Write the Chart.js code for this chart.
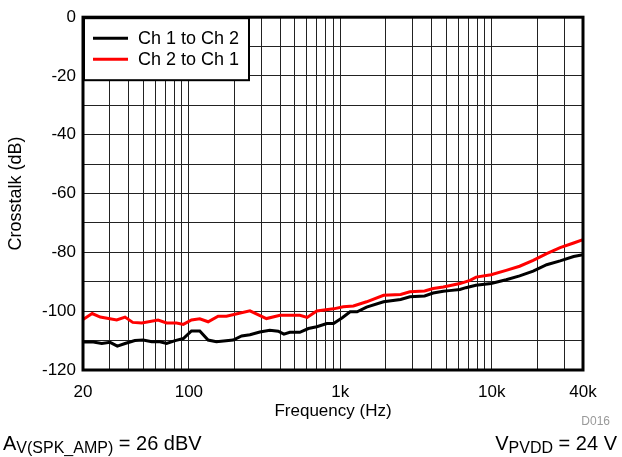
<!DOCTYPE html>
<html>
<head>
<meta charset="utf-8">
<script src="https://cdn.jsdelivr.net/npm/chart.js@4.4.0/dist/chart.umd.min.js"></script>
<style>
  html, body { margin: 0; padding: 0; background: #fff; }
  #wrap { width: 622px; height: 457px; position: relative; }
</style>
</head>
<body>
<div id="wrap"><canvas id="crosstalkChart"></canvas></div>
<script>
// Giá trị (tần số Hz, crosstalk dB)
const ch1Freq = [20, 23.4, 26.6, 30.2, 33.7, 37.9, 44, 49.9, 56.9, 64.5, 71.3, 81.2, 91.9, 104, 118, 134, 152, 196, 223, 253, 294, 342, 389, 424, 464, 540, 615, 699, 815, 902, 1030, 1160, 1290, 1490, 1930, 2500, 2880, 3600, 4100, 4780, 5240, 6160, 6740, 7850, 9880, 12440, 15260, 18750, 23030, 28250, 34690, 40000];
const ch1Db   = [-110.5, -110.5, -111, -110.6, -111.9, -111, -110, -109.8, -110.4, -110.4, -111, -110, -109.3, -106.7, -106.7, -109.8, -110.4, -109.8, -108.4, -108.0, -107.1, -106.5, -106.8, -107.8, -107.2, -107.2, -105.9, -105.3, -104.2, -104.2, -102.2, -100.2, -100.2, -98.6, -96.8, -96.0, -95.1, -94.8, -93.8, -93.2, -93.0, -92.6, -92.0, -91.2, -90.6, -89.3, -88.0, -86.4, -84.2, -82.9, -81.4, -80.8];

const ch2Freq = [20, 23.0, 26.0, 33.4, 37.9, 42.6, 48.9, 62.6, 71.3, 83, 91.9, 104, 118, 134, 156, 177, 253, 325, 400, 540, 604, 699, 902, 1046, 1220, 1490, 1930, 2500, 2880, 3600, 4100, 4780, 6160, 7180, 7880, 9880, 12440, 15260, 18750, 23030, 28250, 34690, 40000];
const ch2Db   = [-102.8, -100.8, -102, -103, -102, -103.8, -104, -103, -104, -104, -104.5, -103, -102.6, -103.6, -101.7, -101.7, -99.9, -102.5, -101.4, -101.4, -102.1, -99.9, -99.2, -98.5, -98.2, -96.8, -94.6, -94.3, -93.4, -93.1, -92.3, -91.8, -90.6, -89.5, -88.4, -87.6, -86.1, -84.7, -82.7, -80.4, -78.4, -76.8, -75.7];

const seriesNames = ['Ch 1 to Ch 2', 'Ch 2 to Ch 1'];
const xGridFreqs = [20, 30, 40, 50, 60, 70, 80, 90, 100, 200, 300, 400, 500, 600, 700, 800, 900, 1000,
  2000, 3000, 4000, 5000, 6000, 7000, 8000, 9000, 10000, 20000, 30000, 40000];
const xLabels = { 20: '20', 100: '100', 1000: '1k', 10000: '10k', 40000: '40k' };

const FONT = 'Arial, "Liberation Sans", sans-serif';

function toPoints(xs, ys) {
  return xs.map((x, i) => ({ x: x, y: ys[i] }));
}

// Khung đen dày quanh vùng vẽ + chú thích
const framePlugin = {
  id: 'frame',
  afterDraw(chart) {
    const { ctx, chartArea: a } = chart;
    ctx.save();
    // legend box
    const bx = a.left, by = a.top, bw = 166, bh = 63;
    ctx.fillStyle = '#fff';
    ctx.fillRect(bx, by, bw, bh);
    ctx.strokeStyle = '#000';
    ctx.lineWidth = 2;
    ctx.strokeRect(bx + 1, by + 1, bw - 1, bh - 1);
    ctx.font = '18px ' + FONT;
    ctx.textBaseline = 'middle';
    ctx.fillStyle = '#000';
    chart.data.datasets.forEach((ds, i) => {
      const y = by + 21 + i * 21;
      ctx.strokeStyle = ds.borderColor;
      ctx.lineWidth = 3;
      ctx.beginPath();
      ctx.moveTo(bx + 10, y);
      ctx.lineTo(bx + 45, y);
      ctx.stroke();
      ctx.fillText(ds.label, bx + 55, y + 1);
    });
    // outer frame
    ctx.strokeStyle = '#000';
    ctx.lineWidth = 3;
    ctx.strokeRect(a.left, a.top, a.right - a.left, a.bottom - a.top);

    // ghi chú phía dưới
    ctx.fillStyle = '#999';
    ctx.font = '12px ' + FONT;
    ctx.textAlign = 'right';
    ctx.textBaseline = 'alphabetic';
    ctx.fillText('D016', 610, 425);

    ctx.fillStyle = '#000';
    ctx.textAlign = 'left';
    const big = '20px ' + FONT, small = '16px ' + FONT;
    let x = 3;
    ctx.font = big;
    ctx.fillText('A', x, 450); x += ctx.measureText('A').width;
    ctx.font = small;
    ctx.fillText('V(SPK_AMP)', x, 453); x += ctx.measureText('V(SPK_AMP)').width;
    ctx.font = big;
    ctx.fillText(' = 26 dBV', x, 450);

    ctx.font = big;
    const tail = ' = 24 V';
    const wTail = ctx.measureText(tail).width;
    const wV = ctx.measureText('V').width;
    ctx.font = small;
    const wSub = ctx.measureText('PVDD').width;
    let rx = 617 - wTail - wSub - wV;
    ctx.font = big;
    ctx.fillText('V', rx, 450); rx += wV;
    ctx.font = small;
    ctx.fillText('PVDD', rx, 453); rx += wSub;
    ctx.font = big;
    ctx.fillText(tail, rx, 450);
    ctx.restore();
  }
};

const config = {
  type: 'line',
  data: {
    datasets: [{
      label: seriesNames[0],
      data: toPoints(ch1Freq, ch1Db),
      borderColor: '#000000',
      borderWidth: 3,
      pointRadius: 0,
      tension: 0,
      fill: false
    }, {
      label: seriesNames[1],
      data: toPoints(ch2Freq, ch2Db),
      borderColor: '#ff0000',
      borderWidth: 3,
      pointRadius: 0,
      tension: 0,
      fill: false
    }]
  },
  options: {
    responsive: true,
    maintainAspectRatio: false,
    animation: false,
    layout: { padding: { left: 0, top: 16, right: 39, bottom: 35 } },
    plugins: {
      legend: { display: false },
      tooltip: { enabled: false }
    },
    scales: {
      x: {
        type: 'logarithmic',
        min: 20,
        max: 40000,
        afterBuildTicks: (scale) => { scale.ticks = xGridFreqs.map(v => ({ value: v })); },
        afterFit: (scale) => { scale.height = 52; },
        grid: { color: '#222', lineWidth: 1, drawTicks: false },
        border: { display: false },
        ticks: {
          autoSkip: false,
          maxRotation: 0,
          padding: 12,
          color: '#000',
          font: { family: FONT, size: 17 },
          callback: (v) => xLabels[v] || ''
        },
        title: {
          display: true,
          text: 'Frequency (Hz)',
          color: '#000',
          font: { family: FONT, size: 17 },
          padding: { top: 0, bottom: 0 }
        }
      },
      y: {
        min: -120,
        max: 0,
        afterFit: (scale) => { scale.width = 83; },
        grid: { color: '#222', lineWidth: 1, drawTicks: false },
        border: { display: false },
        ticks: {
          stepSize: 10,
          padding: 7,
          color: '#000',
          font: { family: FONT, size: 17 },
          callback: (v) => (v % 20 === 0 ? String(v) : '')
        },
        title: {
          display: true,
          text: 'Crosstalk (dB)',
          color: '#000',
          font: { family: FONT, size: 18 },
          padding: { top: 5, bottom: 0 }
        }
      }
    }
  },
  plugins: [framePlugin]
};

const crosstalkChart = new Chart(document.getElementById('crosstalkChart'), config);
</script>
</body>
</html>
